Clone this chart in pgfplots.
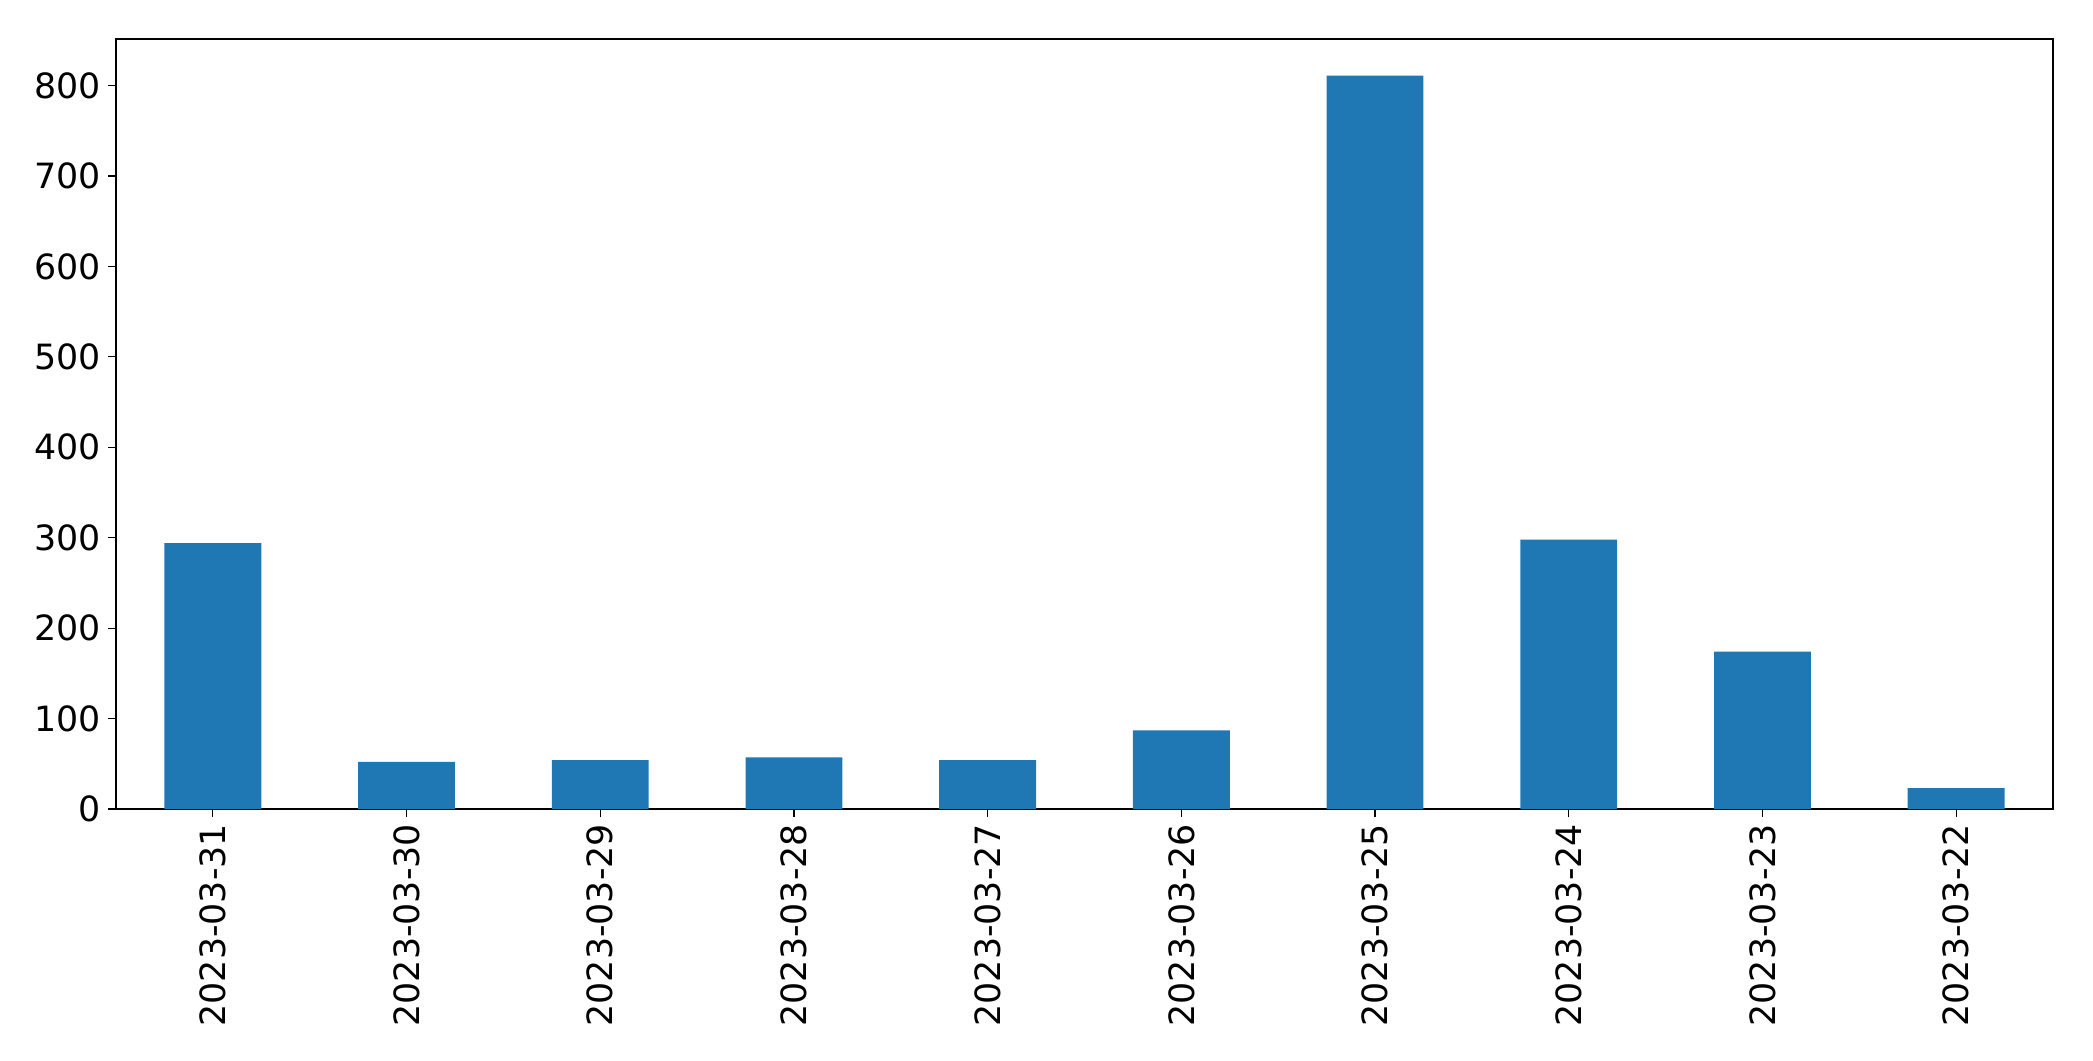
\documentclass[border=0pt]{standalone}
\usepackage{fontspec}
\setmainfont{DejaVu Sans}
\usepackage{pgfplots}
\pgfplotsset{compat=1.18}
\usetikzlibrary{calc}
\definecolor{barblue}{HTML}{1F77B4}

\begin{document}
\begin{tikzpicture}
\begin{axis}[
  scale only axis,
  width=968.5pt, height=385pt,
  ybar, bar width=0.5,
  xmin=-0.5, xmax=9.5,
  ymin=0, ymax=851.55,
  xtick={0,...,9},
  xticklabels={2023-03-31,2023-03-30,2023-03-29,2023-03-28,2023-03-27,2023-03-26,2023-03-25,2023-03-24,2023-03-23,2023-03-22},
  ytick={0,100,...,800},
  xtick pos=bottom, ytick pos=left,
  tick align=outside,
  major tick length=4pt,
  tick style={black, line width=0.6pt},
  axis line style={black, line width=0.6pt},
  /pgf/number format/assume math mode=true,
  tick label style={font=\fontsize{17.4}{20}\selectfont},
  x tick label style={rotate=90, anchor=east},
  scaled y ticks=false,
]
\addplot[fill=barblue, draw=none] coordinates {
  (0,294) (1,52) (2,54) (3,57) (4,54) (5,87) (6,811) (7,298) (8,174) (9,23)
};
\end{axis}
\pgfresetboundingbox
\path ($(current axis.south west)+(-58pt,-126pt)$) rectangle ($(current axis.north east)+(20pt,19.5pt)$);
\end{tikzpicture}
\end{document}
